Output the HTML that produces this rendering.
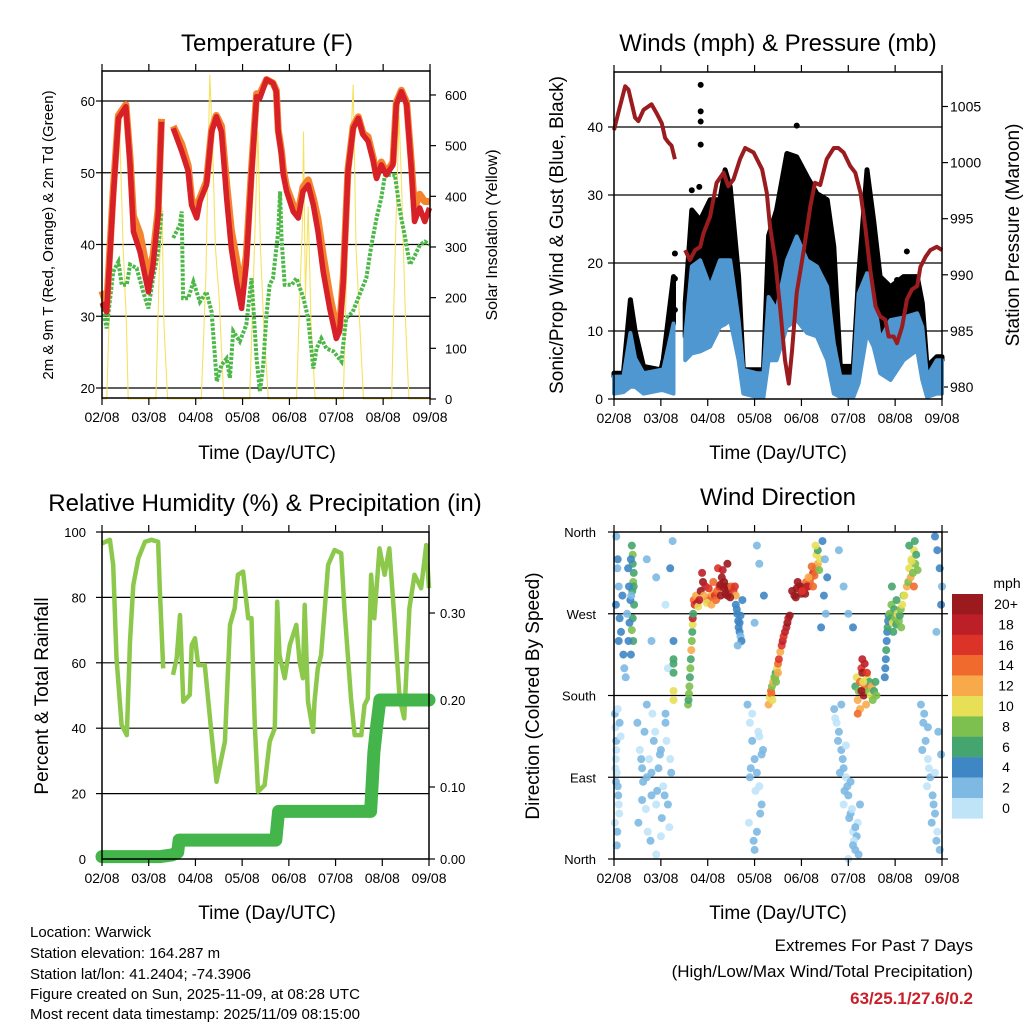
<!DOCTYPE html>
<html><head><meta charset="utf-8"><style>
html,body{margin:0;padding:0;background:#fff;}
svg{display:block;font-family:"Liberation Sans",sans-serif;}
</style></head><body>
<svg id="fig" width="1024" height="1024" viewBox="0 0 1024 1024" xmlns="http://www.w3.org/2000/svg">
<rect width="1024" height="1024" fill="#fff"/>
<g id="layer"></g>
<g font-size="24" text-anchor="middle">
<text x="267" y="51">Temperature (F)</text>
<text x="778" y="51">Winds (mph) &amp; Pressure (mb)</text>
<text x="265" y="511">Relative Humidity (%) &amp; Precipitation (in)</text>
<text x="778" y="505">Wind Direction</text>
</g>
<g font-size="19" text-anchor="middle">
<text x="267" y="459">Time (Day/UTC)</text>
<text x="778" y="459">Time (Day/UTC)</text>
<text x="267" y="919">Time (Day/UTC)</text>
<text x="778" y="919">Time (Day/UTC)</text>
</g>
<text transform="translate(53,235) rotate(-90)" font-size="15" text-anchor="middle">2m &amp; 9m T (Red, Orange) &amp; 2m Td (Green)</text>
<text transform="translate(497,235) rotate(-90)" font-size="16" text-anchor="middle">Solar Insolation (Yellow)</text>
<text transform="translate(563,235) rotate(-90)" font-size="19" text-anchor="middle">Sonic/Prop Wind &amp; Gust (Blue, Black)</text>
<text transform="translate(1019,235) rotate(-90)" font-size="19" text-anchor="middle">Station Pressure (Maroon)</text>
<text transform="translate(48,696) rotate(-90)" font-size="19" text-anchor="middle">Percent &amp; Total Rainfall</text>
<text transform="translate(539,696) rotate(-90)" font-size="19" text-anchor="middle">Direction (Colored By Speed)</text>
<g font-size="15">
<text x="30" y="937">Location: Warwick</text>
<text x="30" y="958">Station elevation: 164.287 m</text>
<text x="30" y="979">Station lat/lon: 41.2404; -74.3906</text>
<text x="30" y="999">Figure created on Sun, 2025-11-09, at 08:28 UTC</text>
<text x="30" y="1019">Most recent data timestamp: 2025/11/09 08:15:00</text>
</g>
<g font-size="17" text-anchor="end">
<text x="973" y="951">Extremes For Past 7 Days</text>
<text x="973" y="977">(High/Low/Max Wind/Total Precipitation)</text>
<text x="973" y="1004" fill="#c8202a" font-weight="bold">63/25.1/27.6/0.2</text>
</g>
</svg>
<script>
// ---------- Temperature panel data ----------
const tDays = [0,0.10,0.24,0.35,0.51,0.60,0.67,0.81,0.99,1.09,1.20,1.27,NaN,1.52,1.70,1.84,1.91,2.02,2.09,2.23,2.34,2.44,2.55,2.66,2.76,2.87,2.98,3.08,3.19,3.30,3.37,3.51,3.65,3.72,3.76,3.83,3.87,3.94,4.08,4.19,4.29,4.40,4.51,4.61,4.72,4.86,5.00,5.07,5.15,5.25,5.36,5.47,5.57,5.68,5.79,5.86,5.96,6.07,6.21,6.28,6.39,6.50,6.60,6.67,6.78,6.89,6.99];
const tRed = [31.9,30.6,46.5,57.6,59.2,51.1,41.8,39,33.4,37.2,44.1,57.1,NaN,56.2,53,50.2,45.5,43.7,46,48.3,55.7,57.8,55.7,46.5,39.5,34.8,31.1,37.2,49.7,60.6,60.4,63,62.5,61.3,55.7,52.5,49.7,47.4,44.6,43.7,47.4,48.3,45.5,41.8,36.2,31.1,26.9,27.9,34.8,50.2,56.2,57.6,55.3,54.4,51.6,49.2,51.1,49.7,51.1,59.5,61.3,59.5,50.6,43.2,45.1,43.2,45.1];
const tOrange = [33.5,31.5,47.5,58,59.5,52,44,41.5,35.5,38.5,45,57.5,NaN,56.5,54,51,46.5,44.5,46.5,48.8,56,58,56.5,48.5,42,38,33.5,38.5,50.5,61,61,63,62.5,61.5,56,53,50.5,48,45.5,44.5,48,49,46.5,43.5,38.5,33,28.5,28.5,35.5,50.5,56.5,57.8,55.5,55,52,49.5,51.5,50,51.5,59.8,61.5,59.8,51.5,45,47,46,46];
const tdDays = [0,0.10,0.24,0.35,0.42,0.53,0.60,0.74,0.88,0.99,1.09,1.20,1.27,NaN,1.52,1.66,1.70,1.73,1.84,1.95,2.09,2.23,2.34,2.45,2.55,2.66,2.73,2.80,2.94,3.08,3.19,3.30,3.37,3.44,3.51,3.58,3.65,3.76,3.80,3.83,3.90,4.05,4.15,4.30,4.40,4.51,4.58,4.68,4.79,4.94,5.11,5.21,5.35,5.55,5.64,5.75,5.86,5.96,6.04,6.15,6.25,6.36,6.47,6.57,6.68,6.78,6.89,6.99];
const tdVals = [31.6,28.3,36.2,37.6,34.4,34.4,37.2,36.7,33.4,31.1,35.3,39,44.6,NaN,40.9,42.7,44.6,32.5,32.5,34.8,32,33.4,30.6,20.9,23.2,24.1,21.4,27.9,26.5,28.8,35.3,24.1,19.5,23.2,30.2,34.4,35.3,41.8,47.4,40.9,34.4,34.4,35.3,32.5,29.7,22.7,25.5,26.9,25.5,25.1,23.7,29.7,30.6,33.9,35.3,39.9,43.7,46.5,49.7,49.7,49.7,44.6,40.9,37.2,38.5,39.9,40.4,40];
const solarDays = [0,0.10,0.2,0.28,0.33,0.38,0.45,0.52,0.56,1.15,1.22,1.28,1.32,1.40,2.12,2.22,2.30,2.36,2.42,2.50,2.60,3.15,3.22,3.28,3.33,3.38,3.45,3.55,4.15,4.22,4.28,4.30,4.34,4.40,4.46,4.55,5.15,5.22,5.30,5.36,5.42,5.50,5.58,6.18,6.26,6.34,6.40,6.48,6.55,7];
const solarVals = [0,0,300,500,560,520,300,150,0,0,250,380,150,0,0,250,640,500,300,200,0,0,200,380,528,300,150,0,0,200,350,528,200,380,150,0,0,250,480,620,300,150,0,0,300,560,400,150,0,0];
const tempTicks = [20,30,40,50,60];
const solarTicks = [0,100,200,300,400,500,600];
const dayLabels = ["02/08","03/08","04/08","05/08","06/08","07/08","08/08","09/08"];

// ---------- Wind panel data ----------
const wDays = [0,0.20,0.35,0.45,0.63,1.0,1.05,1.27,NaN,1.52,1.66,1.84,2.05,2.26,2.37,2.48,2.66,2.76,3.05,3.19,3.30,3.47,3.69,3.90,4.12,4.33,4.55,4.69,4.83,5.11,5.22,5.40,5.54,5.68,5.90,6.18,6.47,6.58,6.68,6.89,7.0];
const wLow = [0.8,1.0,1.8,1.8,0.8,1.3,1.3,0.8,NaN,5.7,6.7,7,7.7,10.6,11,11.6,5.7,0.8,0.3,0.3,5.7,5.7,10.6,11.6,9.7,9.2,5.7,0.8,0.3,0.3,2.3,9.7,7.7,3.8,2.8,5.7,7.2,2.8,0.3,0.8,0.8];
const wHigh = [3.3,3.3,9.7,6.0,3.8,4.3,4.3,11.1,NaN,9.2,19.5,20.4,16.5,20.4,20.4,20.4,11.6,4.3,3.8,3.8,15,13.1,20.4,23.9,20.4,19.5,16.5,8.2,3.3,3.3,15.5,18.5,15.5,8.7,11.6,12,12.6,10.6,3.3,5.7,5.7];
const wGust = [3.8,3.8,14.6,10,4.8,4.3,5.7,18,NaN,14.1,27.8,26.3,29.3,29.3,33.7,31.2,18,4.3,4.3,4.3,24,27.8,36.1,35.6,32.7,30.2,29.3,22.4,4.8,4.8,18,33.7,26.3,18,16.5,18,18,14.1,4.8,6.2,6.2];
const gustOutDays = [1.85,1.85,1.85,1.85,3.90,1.30,1.30,1.30,1.05,6.25,6.04,1.66,1.82];
const gustOutVals = [46.2,42.3,40.8,37.4,40.2,21.4,17.7,13.1,5.5,21.7,17.5,30.7,31.2];
const pDays = [0,0.09,0.24,0.31,0.45,0.52,0.63,0.80,0.91,1.02,1.09,1.16,1.23,1.30,NaN,1.52,1.62,1.73,1.84,1.91,2.05,2.19,2.34,2.44,2.55,2.69,2.80,2.98,3.16,3.26,3.33,3.44,3.55,3.65,3.73,3.80,3.90,4.05,4.19,4.29,4.40,4.54,4.69,4.79,4.90,5.04,5.15,5.26,5.36,5.47,5.58,5.68,5.79,5.86,5.97,6.04,6.15,6.25,6.36,6.47,6.54,6.65,6.75,6.89,7.0];
const pVals = [1002.9,1004.4,1006.8,1006.5,1004,1003.7,1004.7,1005.2,1004.4,1003.5,1002.2,1001.8,1001.5,1000.3,NaN,992.2,991.3,992.2,992.5,993.7,995.2,998.2,999.1,997.9,998.5,1000.3,1001.3,1000.9,999.4,997.3,994.3,991.3,986.9,982.4,980.3,983.3,988.4,992.2,996.1,998.2,998,1000.3,1001.3,1001.3,1000.9,999.7,999.1,997.3,994.3,990.4,987.2,986.3,986,984.5,984.5,983.9,985.4,987.8,988.7,989,990.7,991.6,992.2,992.5,992.2];
const windTicks = [0,10,20,30,40];
const presTicks = [980,985,990,995,1000,1005];

// ---------- RH / precip data ----------
const rhDays = [0,0.17,0.24,0.31,0.42,0.53,0.60,0.67,0.78,0.92,1.06,1.20,1.24,1.31,NaN,1.52,1.60,1.67,1.74,1.88,1.92,1.99,2.06,2.20,2.34,2.45,2.63,2.74,2.84,2.91,3.02,3.13,3.20,3.27,3.34,3.48,3.59,3.70,3.75,3.80,3.91,4.02,4.16,4.23,4.30,4.34,4.41,4.52,4.55,4.62,4.69,4.77,4.84,4.98,5.12,5.19,5.33,5.41,5.55,5.62,5.69,5.76,5.83,5.94,6.05,6.15,6.26,6.37,6.47,6.58,6.69,6.83,6.94,7.0];
const rhVals = [96.5,97.6,89.9,61.4,41,37.9,66.5,83.8,92,97,97.6,97,81.8,58.3,NaN,56.3,61.4,74.6,48.1,50.2,65.4,67.5,59.3,59.3,38.9,23.6,35.9,71.6,76.7,86.9,87.9,73.6,73.6,41,20.6,22.6,35.9,40,78.7,62.4,55.3,65.4,71.6,60.3,55.3,77.7,48.1,38.9,48.1,58.3,62.4,76.7,89.9,94.5,93.5,76.7,49.1,37.9,37.9,47.1,49.1,86.9,73.6,95,86.9,95,73.6,49.1,43,76.7,86.9,82.8,96,82.8];
const precipDays = [0,1.25,1.50,1.62,1.65,3.72,3.78,5.75,5.78,5.82,5.88,5.95,7.0];
const precipVals = [0.02,0.02,0.022,0.025,0.039,0.039,0.072,0.072,0.10,0.14,0.17,0.20,0.20];
const rhTicks = [0,20,40,60,80,100];
const precipTicks = [0.10,0.20,0.30];

// ---------- Wind direction data ----------
const dirDays = [0.02,0.03,0.05,0.04,0.06,0.08,0.1,0.02,0.07,0.12,0.05,0.09,0.03,0.11,0.06,0.14,0.04,0.08,
0.05,0.08,0.1,0.04,0.12,0.15,0.07,0.2,0.22,0.18,0.1,0.25,
0.38,0.40,0.40,0.42,0.41,0.39,0.43,0.40,0.38,0.41,0.36,0.42,
0.30,0.32,0.35,0.28,0.33,0.31,0.36,0.37,
0.5,0.55,0.6,0.65,0.7,0.75,0.8,0.85,0.9,0.95,1.0,1.05,1.1,1.15,1.2,0.52,0.62,0.72,0.82,0.92,1.02,1.12,1.22,0.58,0.68,0.78,0.88,0.98,1.08,1.18,0.7,0.9,1.1,0.6,0.8,1.0,
0.7,0.9,1.1,1.2,1.25,0.8,1.15,
1.27,1.27,1.27,1.27,1.27,1.27,
1.58,1.59,1.60,1.61,1.62,1.63,1.64,1.65,1.66,1.67,1.68,1.68,1.69,
1.70,1.72,1.75,1.78,1.80,1.85,1.90,1.95,2.00,2.05,2.10,2.15,2.20,2.25,2.30,2.35,2.40,2.45,2.50,2.55,2.60,1.88,1.98,2.08,2.18,2.28,2.38,2.48,2.58,2.22,2.32,2.42,2.12,2.02,1.92,1.82,2.35,2.42,2.27,
2.6,2.63,2.65,2.68,2.7,2.72,2.66,2.62,2.7,2.74,2.64,2.68,
2.85,2.9,2.95,3.0,3.05,3.1,3.15,2.88,2.98,3.08,3.18,2.92,3.02,3.12,2.95,3.05,3.0,3.1,2.9,3.15,
3.05,3.1,3.2,3.0,
3.30,3.32,3.35,3.37,3.40,3.42,3.45,3.48,3.50,3.52,3.55,3.58,3.60,3.62,3.65,3.68,3.70,3.72,3.75,3.36,3.44,3.50,3.38,3.46,
3.80,3.85,3.90,3.95,4.00,4.05,4.10,4.15,4.20,4.25,4.30,4.35,4.40,3.88,3.98,4.08,4.18,4.28,4.38,4.12,4.22,4.32,4.02,3.92,4.15,4.25,4.35,4.30,
4.45,4.5,4.55,4.48,4.52,4.42,
4.7,4.75,4.8,4.85,4.9,4.95,5.0,5.05,5.1,5.15,5.2,5.25,4.78,4.88,4.98,5.08,5.18,4.72,4.82,4.92,5.02,5.12,5.22,4.85,4.95,5.05,5.15,5.0,5.1,4.9,
4.8,4.9,5.0,5.1,
5.15,5.18,5.2,5.22,5.25,5.28,5.3,5.33,5.35,5.38,5.4,5.43,5.45,5.48,5.5,5.52,5.55,5.58,5.6,5.25,5.3,5.35,5.2,5.4,5.28,5.32,
5.78,5.79,5.8,5.81,5.82,5.83,5.84,5.85,5.86,
5.88,5.9,5.92,5.95,5.98,6.0,6.02,6.05,6.08,6.1,6.12,6.15,6.18,5.93,6.03,6.13,5.96,
6.2,6.25,6.28,6.3,6.33,6.35,6.38,6.4,6.43,6.45,6.48,6.3,6.4,6.35,6.42,
6.55,6.6,6.65,6.7,6.75,6.8,6.85,6.9,6.95,6.62,6.72,6.82,6.92,6.58,6.68,6.78,6.88,6.98,6.7,6.85,
6.85,6.9,6.95,7.0,6.98,6.88];
const dirDeg = [160,145,130,110,95,80,60,40,30,150,120,70,100,50,15,135,85,165,
355,330,300,280,265,250,320,225,210,290,240,200,
345,335,325,315,305,295,280,265,252,240,330,300,
320,300,285,270,260,240,225,290,
150,120,100,140,90,110,70,130,60,100,120,80,150,60,110,40,85,30,160,75,45,130,95,110,55,20,140,115,70,35,170,5,160,65,95,25,
330,310,280,320,350,240,210,
240,220,215,205,185,175,
170,175,182,190,200,210,220,230,240,250,258,265,270,
285,280,290,282,278,295,305,300,285,288,292,290,295,300,310,305,300,298,300,295,290,315,282,280,285,290,292,288,300,320,318,325,305,298,290,285,298,290,302,
280,270,262,250,245,240,255,275,268,285,235,260,
170,150,130,110,95,80,60,40,20,140,120,100,75,50,160,30,10,135,90,115,
345,325,290,260,
170,178,185,190,195,200,205,210,215,220,228,235,240,245,250,255,260,265,268,182,200,205,175,195,
295,290,298,300,292,295,305,300,310,315,320,325,330,288,300,292,305,312,318,300,322,335,295,305,310,300,340,345,
350,330,310,290,270,255,
165,150,140,120,100,90,70,50,30,10,40,60,130,110,80,55,25,155,95,75,45,20,5,170,125,85,35,0,15,60,
340,300,270,255,
190,200,175,185,195,210,220,180,190,170,200,185,195,180,190,175,185,195,180,165,205,215,160,205,185,195,
200,210,220,230,240,250,255,262,268,
270,265,280,260,275,265,258,270,262,268,275,280,290,300,285,255,250,
290,300,305,320,310,330,315,340,325,335,318,345,300,328,350,
170,150,130,110,90,70,50,30,10,160,100,60,140,120,80,40,20,115,145,95,
355,340,320,300,280,250];
const dirSpd = [2,1,2,1,0,2,1,1,2,3,1,2,0,1,2,1,3,1,
2,4,3,4,5,4,3,4,3,5,4,2,
7,8,6,7,8,6,6,7,8,7,5,6,
4,4,5,3,4,4,5,3,
2,1,2,3,2,1,2,2,1,3,2,1,2,3,1,2,2,1,0,2,3,1,2,2,1,2,0,3,2,1,2,1,3,2,2,1,
2,3,1,4,3,2,1,
5,7,6,7,10,10,
8,7,8,9,7,8,6,12,8,7,10,18,6,
14,16,12,18,10,20,20,18,16,14,12,16,14,16,20,20,22,20,14,16,12,18,10,12,14,20,22,20,16,16,18,20,14,16,12,18,22,20,20,
4,4,5,4,3,4,4,5,4,4,3,4,
2,1,2,2,3,1,2,1,2,0,2,3,1,2,1,2,2,1,2,3,
2,3,4,3,
12,10,14,8,12,8,6,10,14,16,12,16,18,16,18,18,20,18,20,14,8,12,10,8,
20,22,20,18,20,16,14,16,14,16,14,12,10,20,22,20,14,14,8,18,14,10,16,20,12,14,6,10,
4,3,4,5,3,4,
2,1,3,2,2,1,2,3,1,2,1,2,2,3,2,1,2,1,2,3,2,1,2,2,1,3,2,1,2,1,
2,3,3,4,
6,10,12,8,14,16,18,20,14,12,10,8,6,10,12,8,6,6,8,12,22,18,14,16,20,10,
4,5,4,6,5,4,6,5,4,
8,6,8,10,7,8,6,10,8,6,8,10,8,7,6,8,6,
10,12,8,10,12,10,8,10,9,7,8,7,14,10,6,
2,3,2,1,2,2,3,1,2,2,1,2,3,2,1,2,2,3,2,1,
4,4,4,3,4,3];
const dirTickDeg = [0,90,180,270,360];
const dirTickNames = ["North","East","South","West","North"];
const speedBins = ["0","2","4","6","8","10","12","14","16","18","20+"];
const speedColors = ["#bfe4f8","#7db9e3","#3f86c4","#45a56e","#7dc04f","#e7df55","#f8aa4b","#f06a2e","#dc3328","#bd1f29","#9b1a1e"];

// ---------- helpers ----------
const NS = "http://www.w3.org/2000/svg";
const layer = document.getElementById("layer");
function mk(tag, attrs, parent) {
  const e = document.createElementNS(NS, tag);
  for (const k in attrs) e.setAttribute(k, attrs[k]);
  (parent || layer).appendChild(e);
  return e;
}
function linePath(xs, ys, fx, fy) {
  let d = "", pen = false;
  for (let i = 0; i < xs.length; i++) {
    if (isNaN(xs[i]) || isNaN(ys[i])) { pen = false; continue; }
    d += (pen ? "L" : "M") + fx(xs[i]).toFixed(1) + "," + fy(ys[i]).toFixed(1);
    pen = true;
  }
  return d;
}
function bandPath(xs, lo, hi, fx, fy) {
  let d = "", seg = [];
  const flush = () => {
    if (seg.length > 1) {
      d += "M" + seg.map(i => fx(xs[i]).toFixed(1) + "," + fy(hi[i]).toFixed(1)).join("L");
      d += "L" + seg.slice().reverse().map(i => fx(xs[i]).toFixed(1) + "," + fy(lo[i]).toFixed(1)).join("L") + "Z";
    }
    seg = [];
  };
  for (let i = 0; i < xs.length; i++) { if (isNaN(xs[i])) flush(); else seg.push(i); }
  flush();
  return d;
}
function frame(g, L, T, R, B, name) {
  const r = mk("rect", {x: L, y: T, width: R - L, height: B - T, fill: "none", stroke: "#000", "stroke-width": 1.5}, g);
  
  
}
function grid(g, L, R, y) {
  const l = mk("line", {x1: L, x2: R, y1: y, y2: y, stroke: "#000", "stroke-width": 1.2}, g);
  
  
}
function txt(g, x, y, s, anchor, size) {
  const t = mk("text", {x: x, y: y, "text-anchor": anchor, "font-size": size || 13}, g);
  t.textContent = s;
  
  
  return t;
}
function tick(g, x1, y1, x2, y2) {
  const l = mk("line", {x1: x1, y1: y1, x2: x2, y2: y2, stroke: "#000", "stroke-width": 1.2}, g);
  
  
}
function xAxis(g, L, R, T, B) {
  const fx = d => L + d * (R - L) / 7;
  for (let i = 0; i <= 7; i++) {
    tick(g, fx(i), B, fx(i), B + 7);
    tick(g, fx(i), T, fx(i), T - 7);
    txt(g, fx(i), B + 24, dayLabels[i], "middle", 14);
  }
}

// ---------- Panel 1: Temperature ----------
(function () {
  const g = mk("g", {});
  
  
  const L = 102, R = 430, T = 71, B = 398;
  const fx = d => L + d * (R - L) / 7;
  const fy = v => 388 - (v - 20) * 7.175;
  const fs = v => 399 - v * 0.5067;
  tempTicks.forEach(v => { grid(g, L, R, fy(v)); tick(g, L, fy(v), L - 6, fy(v)); txt(g, 95, fy(v) + 5, String(v), "end"); });
  solarTicks.forEach(v => { tick(g, R, fs(v), R + 6, fs(v)); txt(g, 445, fs(v) + 5, String(v), "start"); });
  const sol = mk("path", {d: linePath(solarDays, solarVals, fx, fs), fill: "none", stroke: "#f7e160", "stroke-width": 1.1}, g);
  
  
  const td = mk("path", {d: linePath(tdDays, tdVals, fx, fy), fill: "none", stroke: "#4cb848", "stroke-width": 4, "stroke-dasharray": "3,1.5"}, g);
  
  
  const orng = mk("path", {d: linePath(tDays, tOrange, fx, fy), fill: "none", stroke: "#f5832d", "stroke-width": 7, "stroke-linejoin": "round"}, g);
  
  
  const red = mk("path", {d: linePath(tDays, tRed, fx, fy), fill: "none", stroke: "#d72027", "stroke-width": 5.5, "stroke-linejoin": "round"}, g);
  
  
  frame(g, L, T, R, B, 'temperature-plot-frame');
  xAxis(g, L, R, T, B);
})();

// ---------- Panel 2: Winds & Pressure ----------
(function () {
  const g = mk("g", {});
  
  
  const L = 614, R = 942, T = 72, B = 399;
  const fx = d => L + d * (R - L) / 7;
  const fy = v => 399 - v * 6.8;
  const fp = p => 387 - (p - 980) * 11.22;
  windTicks.forEach(v => { if (v > 0) grid(g, L, R, fy(v)); tick(g, L, fy(v), L - 6, fy(v)); txt(g, 603, fy(v) + 5, String(v), "end", 14); });
  presTicks.forEach(v => { tick(g, R, fp(v), R + 6, fp(v)); txt(g, 950, fp(v) + 5, String(v), "start", 14); });
  const gust = mk("path", {d: bandPath(wDays, wHigh, wGust, fx, fy), fill: "#000", stroke: "#000", "stroke-width": 5, "stroke-linejoin": "round"}, g);
  
  
  gustOutDays.forEach((d, i) => {
    const c = mk("circle", {cx: fx(d), cy: fy(gustOutVals[i]), r: 3, fill: "#000"}, g);
    
    
  });
  const blue = mk("path", {d: bandPath(wDays, wLow, wHigh, fx, fy), fill: "#4f97d0", stroke: "#4f97d0", "stroke-width": 4, "stroke-linejoin": "round"}, g);
  
  
  const pr = mk("path", {d: linePath(pDays, pVals, fx, fp), fill: "none", stroke: "#9b1c1f", "stroke-width": 4, "stroke-linejoin": "round"}, g);
  
  
  frame(g, L, T, R, B, 'winds-plot-frame');
  xAxis(g, L, R, T, B);
})();

// ---------- Panel 3: RH & Precip ----------
(function () {
  const g = mk("g", {});
  
  
  const L = 102, R = 429, T = 532, B = 859;
  const fx = d => L + d * (R - L) / 7;
  const fy = v => B - v * 3.27;
  const fq = v => Math.min(B - 2, 874 - v * 870);
  rhTicks.forEach(v => { if (v > 0 && v < 100) grid(g, L, R, fy(v)); tick(g, L, fy(v), L - 6, fy(v)); txt(g, 86, fy(v) + 5, String(v), "end"); });
  tick(g, R, B, R + 6, B); txt(g, 440, B + 5, "0.00", "start");
  precipTicks.forEach(v => { tick(g, R, 874 - v * 870, R + 6, 874 - v * 870); txt(g, 440, 874 - v * 870 + 5, v.toFixed(2), "start"); });
  const rh = mk("path", {d: linePath(rhDays, rhVals, fx, fy), fill: "none", stroke: "#8cc84b", "stroke-width": 4.5, "stroke-linejoin": "round"}, g);
  
  
  const pc = mk("path", {d: linePath(precipDays, precipVals, fx, fq), fill: "none", stroke: "#44b54a", "stroke-width": 13, "stroke-linecap": "round", "stroke-linejoin": "round"}, g);
  
  
  frame(g, L, T, R, B, 'humidity-plot-frame');
  xAxis(g, L, R, T, B);
})();

// ---------- Panel 4: Wind Direction ----------
(function () {
  const g = mk("g", {});
  
  
  const L = 614, R = 942, T = 532, B = 859;
  const fx = d => L + d * (R - L) / 7;
  const fy = deg => B - deg * (B - T) / 360;
  dirTickDeg.forEach((v, i) => {
    if (v > 0 && v < 360) grid(g, L, R, fy(v));
    tick(g, L, fy(v), L - 6, fy(v));
    tick(g, R, fy(v), R + 6, fy(v));
    txt(g, 596, fy(v) + 5, dirTickNames[i], "end");
  });
  dirDays.forEach((d, i) => {
    const bin = Math.min(10, Math.floor(dirSpd[i] / 2));
    const c = mk("circle", {cx: fx(d).toFixed(1), cy: fy(dirDeg[i]).toFixed(1), r: 4, fill: speedColors[bin], "fill-opacity": 0.9}, g);
    
    
  });
  frame(g, L, T, R, B, 'wind-direction-plot-frame');
  xAxis(g, L, R, T, B);
  // colorbar legend
  const lg = mk("g", {});
  
  
  const t0 = mk("text", {x: 1007, y: 588, "text-anchor": "middle", "font-size": 14}, lg);
  t0.textContent = "mph";
  
  
  for (let k = 0; k < speedBins.length; k++) {
    const idx = speedBins.length - 1 - k;
    const y = 594 + k * 20.4;
    const r = mk("rect", {x: 952, y: y, width: 31, height: 20.6, fill: speedColors[idx]}, lg);
    
    
    const t = mk("text", {x: 1006, y: y + 15, "text-anchor": "middle", "font-size": 14}, lg);
    t.textContent = speedBins[idx];
    
    
  }
})();
</script>
</body></html>
